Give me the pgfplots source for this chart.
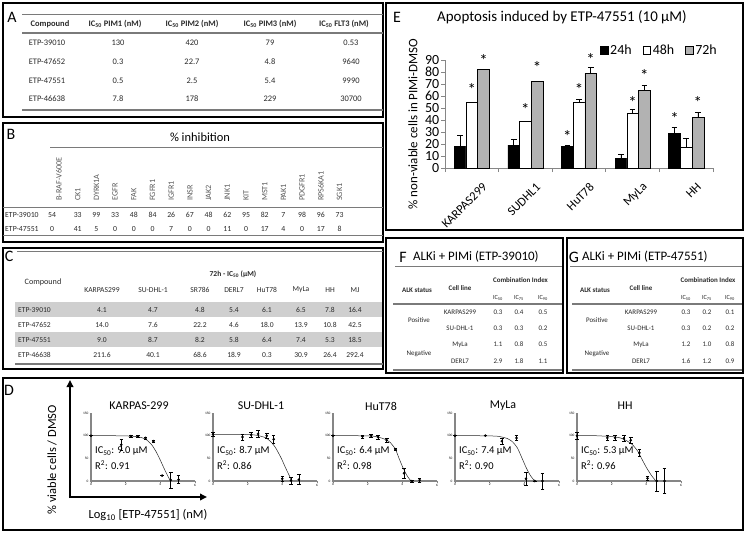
\documentclass[border=0pt]{standalone}
\usepackage{fontspec}
\setmainfont{Carlito}
\usepackage{pgfplots}
\pgfplotsset{compat=1.18}
\usetikzlibrary{arrows.meta}

\definecolor{axgray}{HTML}{868686}
\definecolor{bargray}{HTML}{B2B2B2}
\definecolor{rowgray}{HTML}{CFCFCF}
\definecolor{rulegray}{HTML}{7A7A7A}
\definecolor{txt}{HTML}{2A2A2A}

\newcommand{\fsz}[1]{\fontsize{#1}{#1}\selectfont}

\pgfplotsset{
  /pgf/number format/assume math mode=true,
  doseax/.style={
    scale only axis, width=104bp, height=68bp, anchor=south west,
    xmin=0, xmax=6, ymin=0, ymax=150,
    axis x line*=bottom, axis y line*=left,
    axis line style={axgray, line width=1.1bp, -},
    xtick={0,2,4,6}, ytick={0,50,100,150},
    tick align=outside, major tick length=1.5bp,
    tick style={axgray, line width=0.5bp},
    tick label style={font=\fsz{3.5}, black, inner sep=1bp},
    clip=false,
  },
  fitc/.style={black!85, line width=0.5bp, no marks, smooth, tension=0.4},
  dpts/.style={only marks, mark=*, mark size=1.1bp, black,
    error bars/.cd, y dir=both, y explicit,
    error bar style={line width=0.6bp, black},
    error mark options={rotate=90, mark size=1.8bp, line width=0.6bp, black}},
  ebar/.style={error bars/.cd, y dir=plus, y explicit,
    error bar style={line width=0.7bp, black},
    error mark options={rotate=90, mark size=2.8bp, line width=0.7bp, black}},
  ebox/.style={at={(445bp,-168bp)}, anchor=south west,
    scale only axis, width=268bp, height=108bp,
    xmin=-0.5, xmax=4.5, ymin=0, ymax=90, clip=false},
}

\begin{document}
\begin{tikzpicture}
\begin{scope}[x=1bp,y=-1bp]
\useasboundingbox (0,0) rectangle (746,533);
\fill[white] (0,0) rectangle (746,533);

% panel frames
\begin{scope}[black, line width=1.3bp]
\draw (3,3) rectangle (383,117);
\draw (3,123) rectangle (383,242);
\draw (3,248) rectangle (383,369);
\draw (3,378) rectangle (743,530);
\draw (386,3) rectangle (743,230);
\draw (386,238) rectangle (563,373);
\draw (567,238) rectangle (743,373);
\end{scope}

% panel letters
\begin{scope}[every node/.style={font=\fsz{16}, inner sep=0pt}]
\node at (12,17) {A};
\node at (11,134) {B};
\node at (9,256) {C};
\node at (9,390) {D};
\node at (397,17) {E};
\node at (403,257) {F};
\node at (574,257) {G};
\end{scope}

% ---------- A ----------
\draw[rulegray, line width=0.9bp] (22,14) -- (383,14);
\draw[rulegray, line width=1.2bp] (22,33) -- (383,33);
\draw[rulegray, line width=1.5bp] (22,110) -- (383,110);
\begin{scope}[every node/.style={inner sep=0pt, font=\fsz{8.5}, text=txt}]
\node[font=\fsz{8.5}\bfseries] at (50,24) {Compound};
\node[font=\fsz{8.5}\bfseries] at (115,24) {IC\textsubscript{50} PIM1 (nM)};
\node[font=\fsz{8.5}\bfseries] at (192,24) {IC\textsubscript{50} PIM2 (nM)};
\node[font=\fsz{8.5}\bfseries] at (270,24) {IC\textsubscript{50} PIM3 (nM)};
\node[font=\fsz{8.5}\bfseries] at (344,24) {IC\textsubscript{50} FLT3 (nM)};
\foreach \n/\a/\b/\c/\d [count=\i from 0] in
  {ETP-39010/130/420/79/0.53, ETP-47652/0.3/22.7/4.8/9640,
   ETP-47551/0.5/2.5/5.4/9990, ETP-46638/7.8/178/229/30700}{
  \pgfmathsetmacro\yy{43+18.7*\i}
  \node at (47,\yy) {\n};
  \node at (118,\yy) {\a};
  \node at (192,\yy) {\b};
  \node at (270,\yy) {\c};
  \node at (351,\yy) {\d};
}
\end{scope}

% ---------- B ----------
\node[font=\fsz{12.5}, inner sep=0pt] at (200,137) {\% inhibition};
\draw[rulegray, line width=1bp] (50,148) -- (383,148);
\draw[rulegray, line width=1bp] (3,208) -- (383,208);
\draw[rulegray, line width=1bp] (3,236) -- (383,236);
\begin{scope}[every node/.style={inner sep=0pt, font=\fsz{8.2}, text=black!65}]
\foreach \k [count=\i from 0] in {B-RAF-V600E,CK1,DYRK1A,EGFR,FAK,FGFR1,IGFR1,INSR,JAK2,JNK1,KIT,MST1,PAK1,PDGFR1,RPS6KA1,SGK1}{
  \node[rotate=90, anchor=west] at ({59+18.7*\i},201) {\k};
}
\end{scope}
\begin{scope}[every node/.style={inner sep=0pt, font=\fsz{7.8}, text=txt}]
\node[anchor=west] at (5,215) {ETP-39010};
\node[anchor=west] at (5,229) {ETP-47551};
\foreach \v [count=\i from 0] in {54,33,99,33,48,84,26,67,48,62,95,82,7,98,96,73}{
  \pgfmathsetmacro\xx{\i==0 ? 52 : 59+18.7*\i}
  \node at (\xx,215) {\v};
}
\foreach \v [count=\i from 0] in {0,41,5,0,0,0,7,0,0,11,0,17,4,0,17,8}{
  \pgfmathsetmacro\xx{\i==0 ? 52 : 59+18.7*\i}
  \node at (\xx,229) {\v};
}
\end{scope}

% ---------- C ----------
\draw[rulegray, line width=1bp] (17,252) -- (383,252);
\fill[rowgray] (15,302) rectangle (382,317);
\fill[rowgray] (15,332) rectangle (382,347);
\draw[rulegray, line width=1.3bp] (15,364) -- (383,364);
\begin{scope}[every node/.style={inner sep=0pt, font=\fsz{7.6}, text=txt}]
\node[font=\fsz{7.6}\bfseries] at (233,274) {72h - IC\textsubscript{50} (µM)};
\node[font=\fsz{8.2}] at (43,282) {Compound};
\def\cx{{102,153,200,234,267,301,330,355}}
\foreach \h [count=\i from 0] in {KARPAS299,SU-DHL-1,SR786,DERL7,HuT78,MyLa,HH,MJ}{
  \pgfmathsetmacro\xx{\cx[\i]}
  \node at (\xx,290) {\h};
}
\foreach \n/\vals [count=\j from 0] in
  {ETP-39010/{4.1,4.7,4.8,5.4,6.1,6.5,7.8,16.4},
   ETP-47652/{14.0,7.6,22.2,4.6,18.0,13.9,10.8,42.5},
   ETP-47551/{9.0,8.7,8.2,5.8,6.4,7.4,5.3,18.5},
   ETP-46638/{211.6,40.1,68.6,18.9,0.3,30.9,26.4,292.4}}{
  \pgfmathsetmacro\yy{310+15*\j}
  \node[anchor=west] at (18,\yy) {\n};
  \foreach \v [count=\i from 0] in \vals {
    \pgfmathsetmacro\xx{\cx[\i]}
    \node at (\xx,\yy) {\v};
  }
}
\end{scope}

% ---------- D ----------
\draw[line width=2.3bp, -{Triangle[length=7bp,width=6.5bp]}] (70,498) -- (70,380);
\draw[line width=2.3bp, -{Triangle[length=7bp,width=6.5bp]}] (68.85,497) -- (207,497);
\node[rotate=90, font=\fsz{12.5}, inner sep=0pt] at (52,460) {\% viable cells / DMSO};
\node[font=\fsz{12.5}, inner sep=0pt] at (148,515) {Log\textsubscript{10} [ETP-47551] (nM)};
\begin{scope}[every node/.style={inner sep=0pt}]
\foreach \x/\t/\ic/\r in {91/KARPAS-299/9.0/0.91, 213/SU-DHL-1/8.7/0.86, 333/HuT78/6.4/0.98, 455/MyLa/7.4/0.90, 577/HH/5.3/0.96}{
  \node[font=\fsz{12}] at (\x+48,406) {\t};
  \node[font=\fsz{10.5}, anchor=west] at (\x+4,451) {IC\textsubscript{50}: \ic\ µM};
  \node[font=\fsz{10.5}, anchor=west] at (\x+4,465) {R\textsuperscript{2}: \r};
}
\end{scope}

% ---------- E ----------
\node[font=\fsz{15}, inner sep=0pt] at (562,17) {Apoptosis induced by ETP-47551 (10 µM)};
\node[rotate=90, font=\fsz{13}, inner sep=0pt] at (413,124) {\% non-viable cells in PIMi-DMSO};

% ---------- F ----------
\node[font=\fsz{13}, anchor=west, inner sep=0pt] at (413,257) {ALKi + PIMi (ETP-39010)};
\draw[rulegray, line width=1bp] (395,267) -- (562,267);
\draw[rulegray, line width=1.3bp] (393,304) -- (562,304);
\draw[rulegray, line width=1.3bp] (393,370) -- (562,370);
% ---------- G ----------
\node[font=\fsz{13}, anchor=west, inner sep=0pt] at (582,257) {ALKi + PIMi (ETP-47551)};
\draw[rulegray, line width=1bp] (570,267) -- (742,267);
\draw[rulegray, line width=1.3bp] (572,304) -- (742,304);
\draw[rulegray, line width=1.3bp] (572,370) -- (742,370);

\begin{scope}[every node/.style={inner sep=0pt, font=\fsz{7}, text=txt}]
\foreach \ax/\cl/\xa/\xb/\xc/\vals in
  {417/460/498/519/543/{0.3,0.4,0.5,0.3,0.3,0.2,1.1,0.8,0.5,2.9,1.8,1.1},
   595/641/686/707/730/{0.3,0.2,0.1,0.3,0.2,0.2,1.2,1.0,0.8,1.6,1.2,0.9}}{
  \node[font=\fsz{7}\bfseries] at ({(\xa+\xc)/2},280) {Combination Index};
  \node[font=\fsz{7}\bfseries] at (\ax,290) {ALK status};
  \node[font=\fsz{7}\bfseries] at (\cl,288) {Cell line};
  \node[font=\fsz{6.3}] at (\xa,298) {IC\textsubscript{50}};
  \node[font=\fsz{6.3}] at (\xb,298) {IC\textsubscript{75}};
  \node[font=\fsz{6.3}] at (\xc,298) {IC\textsubscript{90}};
  \node at (\ax+2,320) {Positive};
  \node at (\ax+2,354) {Negative};
  \foreach \c [count=\j from 0] in {KARPAS299,SU-DHL-1,MyLa,DERL7}{
    \node at (\cl,{312+16.3*\j}) {\c};
  }
  \foreach \v [count=\k from 0] in \vals {
    \pgfmathtruncatemacro\rr{int(\k/3)}
    \pgfmathtruncatemacro\kc{\k-3*\rr}
    \pgfmathsetmacro\xx{\kc==0 ? \xa : (\kc==1 ? \xb : \xc)}
    \node at (\xx,{312+16.3*\rr}) {\v};
  }
}
\end{scope}
\end{scope}

% ---------- E bar chart ----------
\begin{axis}[
  ebox,
  ybar=0pt, bar width=11.7bp,
  axis x line*=bottom, axis y line*=left,
  axis line style={axgray, line width=0.8bp, -},
  ytick={0,10,...,90},
  xtick={-0.5,0.5,1.5,2.5,3.5,4.5},
  x tick label as interval,
  xticklabels={KARPAS299,SUDHL1,HuT78,MyLa,HH},
  tick align=outside, major tick length=4bp,
  tick style={axgray, line width=0.8bp},
  yticklabel style={font=\fsz{14}, inner sep=1.5bp},
  xticklabel style={font=\fsz{12.5}, xshift=13bp, yshift=-13bp, rotate=45, anchor=east, inner sep=0pt},
  legend columns=3,
  legend style={at={(0.578,1.093)}, anchor=west, draw=none, fill=none, inner sep=0pt,
    font=\fsz{14}, /tikz/every even column/.append style={column sep=9bp}},
  legend image code/.code={\draw[#1] (0bp,-3.8bp) rectangle (7.6bp,3.8bp);},
]
\addplot[fill=black, draw=black, line width=0.5bp, ebar]
  coordinates {(0,18) +- (0,9) (1,19) +- (0,5) (2,18) +- (0,0.6) (3,8) +- (0,3) (4,29) +- (0,5)};
\addlegendentry{24h}
\addplot[fill=white, draw=black, line width=0.5bp, ebar]
  coordinates {(0,55) +- (0,0) (1,39) +- (0,0) (2,55) +- (0,2) (3,46) +- (0,2.5) (4,17) +- (0,8)};
\addlegendentry{48h}
\addplot[fill=bargray, draw=black, line width=0.5bp, ebar]
  coordinates {(0,82) +- (0,0) (1,72) +- (0,0) (2,79) +- (0,5) (3,65) +- (0,4) (4,42) +- (0,4.5)};
\addlegendentry{72h}
\end{axis}
% asterisks (significance) on the same frame
\begin{axis}[ebox, hide axis]
\addplot[draw=none, mark=none, nodes near coords={*},
  every node near coord/.append style={font=\fsz{17}, anchor=center, yshift=-3bp, inner sep=0pt}]
  coordinates {(0,68) (0.218,92) (1,51) (1.218,86) (1.782,29) (2,68) (2.218,93)
               (3,57) (3.218,80) (3.782,44) (4.218,57)};
\end{axis}

% ---------- D dose-response ----------
\begin{axis}[doseax, at={(91bp,-481bp)}]
\addplot[fitc] coordinates {(0,100) (1,100) (2,99.5) (2.5,98.5) (2.9,96) (3.2,91) (3.5,80) (3.75,65) (3.95,50) (4.25,25) (4.5,6) (4.6,0)};
\addplot[dpts] coordinates {(0,100) +- (0,0) (1.75,80) +- (0,12) (2.3,99) +- (0,2) (2.7,98) +- (0,2) (3.15,95) +- (0,2) (3.6,88) +- (0,2) (4.1,12) +- (0,0) (4.6,2) +- (0,17) (5.05,3) +- (0,9)};
\end{axis}
\begin{axis}[doseax, at={(213bp,-481bp)}]
\addplot[fitc] coordinates {(0,103) (1,103) (2,102.5) (2.5,101) (3,96) (3.3,88) (3.6,74) (3.94,50) (4.2,28) (4.45,8) (4.55,0)};
\addplot[dpts] coordinates {(0,103) +- (0,5) (1.7,97) +- (0,7) (2.2,102) +- (0,5) (2.6,104) +- (0,7) (3.1,100) +- (0,6) (3.5,92) +- (0,8) (4.0,5) +- (0,6) (4.5,1) +- (0,8) (4.95,3) +- (0,11)};
\end{axis}
\begin{axis}[doseax, at={(333bp,-481bp)}]
\addplot[fitc] coordinates {(0,100) (1,100) (2,99.5) (2.5,98) (3,92) (3.3,85) (3.6,70) (3.81,50) (4.05,28) (4.3,10) (4.5,0)};
\addplot[dpts] coordinates {(0,100) +- (0,0) (1.7,98) +- (0,3) (2.2,100) +- (0,4) (2.6,97) +- (0,4) (3.1,90) +- (0,4) (3.6,70) +- (0,3) (4.1,17) +- (0,10) (4.55,0) +- (0,2) (5.0,2) +- (0,4)};
\end{axis}
\begin{axis}[doseax, at={(455bp,-481bp)}]
\addplot[fitc] coordinates {(0,100) (1,100) (2,99.5) (2.5,98.5) (3,94) (3.3,87) (3.6,73) (3.87,50) (4.1,30) (4.35,12) (4.6,0)};
\addplot[dpts] coordinates {(0,100) +- (0,0) (1.75,100) +- (0,0) (2.7,88) +- (0,6) (3.55,95) +- (0,6) (4.1,5) +- (0,14) (4.6,0) +- (0,0) (5.05,0) +- (0,18)};
\end{axis}
\begin{axis}[doseax, at={(577bp,-481bp)}]
\addplot[fitc] coordinates {(0,100) (1,100) (2,98) (2.5,95) (2.9,88) (3.2,80) (3.5,66) (3.72,50) (4,30) (4.3,12) (4.55,0)};
\addplot[dpts] coordinates {(0,100) +- (0,8) (1.75,95) +- (0,6) (2.2,95) +- (0,6) (2.7,94) +- (0,6) (3.1,90) +- (0,6) (3.6,62) +- (0,8) (4.07,6) +- (0,4) (4.6,0) +- (0,22) (5.05,0) +- (0,27)};
\end{axis}
\end{tikzpicture}
\end{document}
